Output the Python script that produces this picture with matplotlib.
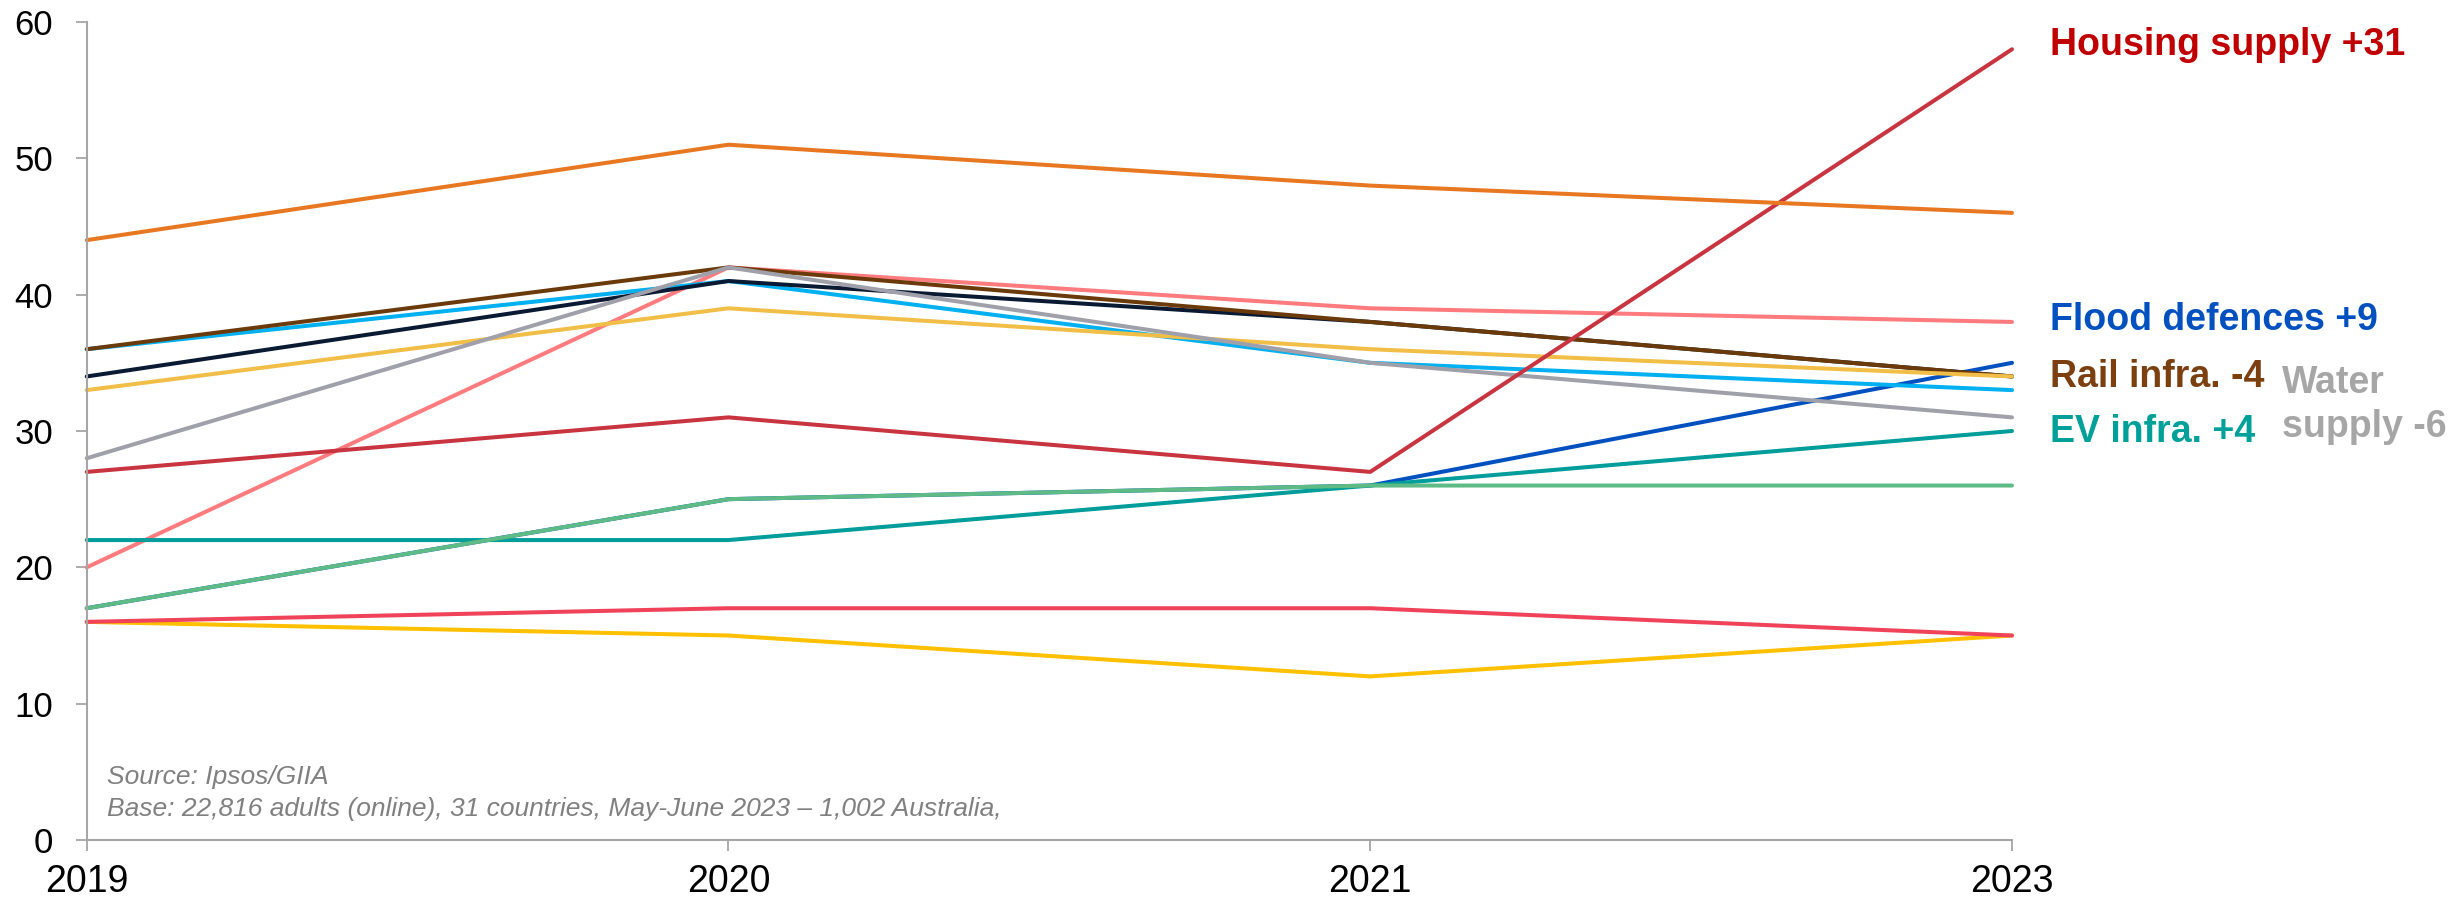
import matplotlib
matplotlib.use("Agg")
import matplotlib.pyplot as plt

plt.rcParams['font.family'] = ['Liberation Sans', 'DejaVu Sans']

years = ["2019", "2020", "2021", "2023"]

orange_series = [44, 51, 48, 46]
pink_series = [20, 42, 39, 38]
flood_defences = [17, 25, 26, 35]
lightblue_series = [36, 41, 35, 33]
navy_series = [34, 41, 38, 34]
rail_infra = [36, 42, 38, 34]
gold_series = [33, 39, 36, 34]
water_supply = [28, 42, 35, 31]
housing_supply = [27, 31, 27, 58]
ev_infra = [22, 22, 26, 30]
green_series = [17, 25, 26, 26]
yellow_series = [16, 15, 12, 15]
red_series = [16, 17, 17, 15]

series = [
    (pink_series, "#FF7B7E"),
    (flood_defences, "#0050C0"),
    (lightblue_series, "#00B0F0"),
    (navy_series, "#0B1A33"),
    (rail_infra, "#6B3A0A"),
    (gold_series, "#F1BE48"),
    (water_supply, "#A0A0AA"),
    (housing_supply, "#C8343F"),
    (ev_infra, "#009D9A"),
    (green_series, "#5EBB85"),
    (orange_series, "#E87722"),
    (yellow_series, "#FFC000"),
    (red_series, "#F0435A"),
]

W, H = 2461, 899
fig = plt.figure(figsize=(W / 100, H / 100), dpi=100)
ax = fig.add_axes([86.7 / W, 1 - 840 / H, (2012 - 86.7) / W, (840 - 22) / H])

x = list(range(len(years)))
for vals, col in series:
    ax.plot(x, vals, color=col, lw=2.9, solid_capstyle='round',
            solid_joinstyle='round', clip_on=False)

ax.set_xlim(0, 3)
ax.set_ylim(0, 60)
ax.set_xticks(x)
ax.set_xticklabels(years)
ax.set_yticks(range(0, 61, 10))
for s in ['top', 'right']:
    ax.spines[s].set_visible(False)
for s in ['left', 'bottom']:
    ax.spines[s].set_color('#A6A6A6')
    ax.spines[s].set_linewidth(1.5)
ax.tick_params(axis='both', direction='out', length=8, width=1.3, color='#A6A6A6')
ax.tick_params(axis='y', labelsize=25, pad=16)
ax.tick_params(axis='x', labelsize=27, pad=9)

fig.text(107 / W, 1 - 777 / H, "Source: Ipsos/GIIA", fontsize=19, style='italic',
         color='#808080', va='center')
fig.text(107 / W, 1 - 809 / H,
         "Base: 22,816 adults (online), 31 countries, May-June 2023 \u2013 1,002 Australia,",
         fontsize=19, style='italic', color='#808080', va='center')

lab = dict(fontsize=27, fontweight='bold', va='baseline', ha='left')
fig.text(2050 / W, 1 - 55 / H, "Housing supply +31", color="#C00000", **lab)
fig.text(2050 / W, 1 - 330 / H, "Flood defences +9", color="#0050C0", **lab)
fig.text(2050 / W, 1 - 387 / H, "Rail infra. -4", color="#7B3F10", **lab)
fig.text(2050 / W, 1 - 442 / H, "EV infra. +4", color="#00A09A", **lab)
fig.text(2282 / W, 1 - 393 / H, "Water", color="#A6A6A6", **lab)
fig.text(2282 / W, 1 - 437 / H, "supply -6", color="#A6A6A6", **lab)

fig.savefig("out.png", dpi=100)
